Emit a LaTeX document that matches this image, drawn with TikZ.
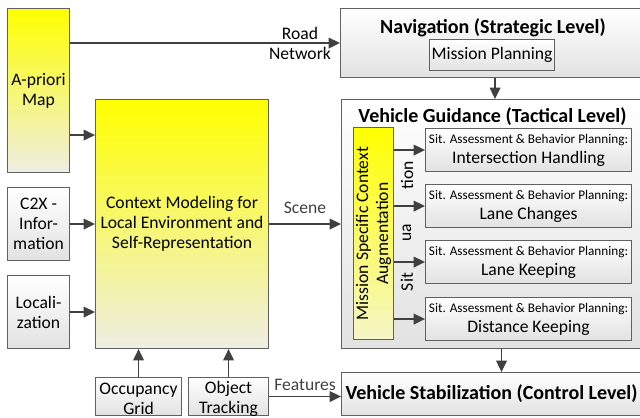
\documentclass[tikz,border=0pt]{standalone}
\usepackage{fontspec}
\setmainfont{Carlito}
\usepackage{tikz}
\usetikzlibrary{calc,arrows.meta}
\definecolor{ctxYellow}{RGB}{255,255,0}
\definecolor{ctxYellowPale}{RGB}{238,238,228}
\definecolor{msaYellowPale}{RGB}{246,246,200}
\definecolor{cmgray}{RGB}{64,64,64}
\definecolor{cmborder}{RGB}{96,96,96}
\definecolor{cmboxlow}{RGB}{226,226,226}
\newcommand{\saSmall}{\fontsize{9.9}{12}\selectfont}

\begin{document}
\begin{tikzpicture}[x=0.75pt,y=-0.75pt,
  box/.style={draw=cmborder, line width=0.8pt, top color=white, bottom color=cmboxlow,
    anchor=north west, inner sep=0pt, align=center, font=\fontsize{13.2}{15}\selectfont},
  ybox/.style={box, top color=ctxYellow, bottom color=ctxYellowPale},
  arr/.style={cmgray, line width=1.1pt, -{Triangle[length=8.5pt,width=8pt]}},
  ttl/.style={font=\fontsize{15}{18}\selectfont\bfseries},
  txt/.style={font=\fontsize{13.2}{15}\selectfont, align=center, inner sep=0pt}]
\useasboundingbox (0,0) rectangle (640,418);
% left column
\node[ybox, minimum width=46.5pt, minimum height=123pt] (map) at (7,8) {A-priori\\Map};
\node[box, minimum width=46.5pt, minimum height=54.75pt] (c2x) at (7,187) {C2X -\\Infor-\\mation};
\node[box, minimum width=46.5pt, minimum height=54.75pt] (loc) at (7,275) {Locali-\\zation};
\node[ybox, minimum width=129.75pt, minimum height=186.75pt] (ctx) at (95,99)
  {Context Modeling for\\Local Environment and\\Self-Representation};
\node[box, minimum width=64.5pt, minimum height=28.5pt] (occ) at (95,377) {};
\node[txt] (occlbl) at ($(occ)+(0,2)$) {Occupancy\\Grid};
\node[box, minimum width=60pt, minimum height=28.5pt] (obj) at (188,377) {};
\node[txt] (objlbl) at ($(obj)+(0,2)$) {Object\\Tracking};
% right column
\node[box, minimum width=225.75pt, minimum height=51.75pt] (nav) at (340,8) {};
\node[ttl] (navttl) at ($(nav.north)+(2,20)$) {Navigation (Strategic Level)};
\node[box, minimum width=93.75pt, minimum height=23.25pt] (mp) at (429,39) {Mission Planning};
\node[box, minimum width=225pt, minimum height=186.75pt] (vg) at (341,99) {};
\node[ttl] (vgttl) at ($(vg.north)+(1,18)$) {Vehicle Guidance (Tactical Level)};
\node[box, top color=ctxYellow, bottom color=msaYellowPale, minimum width=30pt, minimum height=159pt] (msa) at (353,127) {};
\node[txt, rotate=90] (msalbl) at (msa) {Mission Specific Context\\Augmentation};
\node[txt, rotate=90] (tion) at (407,175) {tion};
\node[txt, rotate=90] (ua) at (407,233) {ua};
\node[txt, rotate=90] (sit) at (407,282) {Sit};
\node[box, minimum width=154.5pt, minimum height=32.25pt] (sa1) at (425,128)
  {{\saSmall Sit. Assessment \& Behavior Planning:}\\Intersection Handling};
\node[box, minimum width=154.5pt, minimum height=32.25pt] (sa2) at (425,184)
  {{\saSmall Sit. Assessment \& Behavior Planning:}\\Lane Changes};
\node[box, minimum width=154.5pt, minimum height=32.25pt] (sa3) at (425,240)
  {{\saSmall Sit. Assessment \& Behavior Planning:}\\Lane Keeping};
\node[box, minimum width=154.5pt, minimum height=32.25pt] (sa4) at (425,297)
  {{\saSmall Sit. Assessment \& Behavior Planning:}\\Distance Keeping};
\node[box, minimum width=225pt, minimum height=32.25pt, ttl] (vs) at (341,372)
  {Vehicle Stabilization (Control Level)};
% connectors
\coordinate (mapout) at ([yshift=28.5pt]map.south east);
\draw[arr] (map.east |- nav.west) -- (nav.west);
\node[txt] (roadlbl) at ([xshift=-30pt]nav.west) {Road\\Network};
\draw[arr] (mapout) -- (mapout -| ctx.west);
\draw[arr] (c2x.east) -- (c2x.east -| ctx.west);
\draw[arr] (loc.east) -- (loc.east -| ctx.west);
\draw[arr] (occ.north) -- (occ.north |- ctx.south);
\draw[arr] (obj.north) -- (obj.north |- ctx.south);
\draw[arr] (ctx.east) -- node[txt, above=7pt] (scenelbl) {Scene} (vg.west);
\draw[arr] (obj.east) -- node[txt, above=4pt] (featlbl) {Features} (obj.east -| vs.west);
\draw[arr] ([xshift=3pt]nav.south) -- ([xshift=3pt]nav.south |- vg.north);
\draw[arr] ([xshift=7.5pt]vg.south) -- ([xshift=7.5pt]vg.south |- vs.north);
\foreach \s in {sa1,sa2,sa3,sa4}
  \draw[arr] (\s.west -| msa.east) -- (\s.west);
\end{tikzpicture}
\end{document}
